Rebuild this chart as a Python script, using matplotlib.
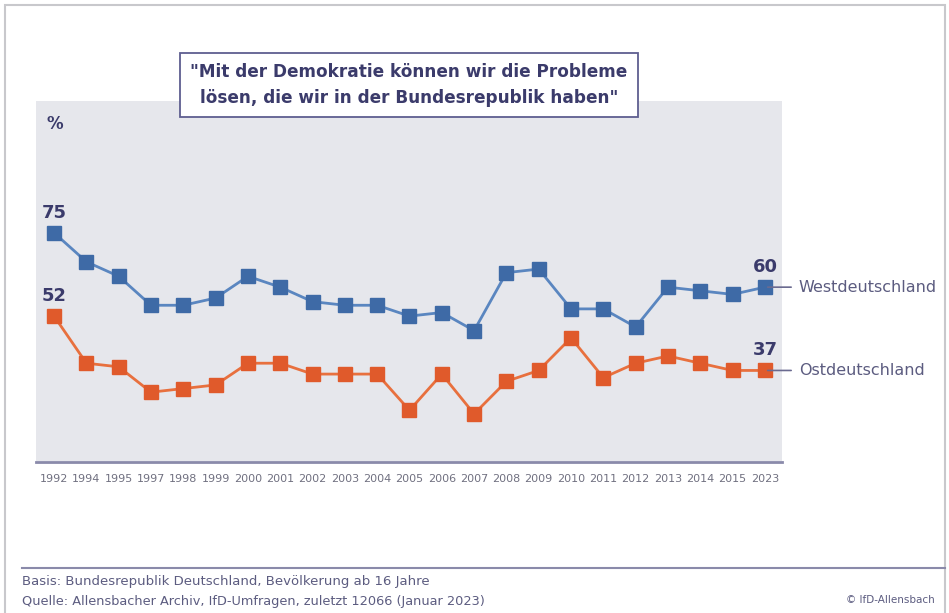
import matplotlib.pyplot as plt
from matplotlib.patches import Rectangle
from matplotlib.lines import Line2D

years = ["1992", "1994", "1995", "1997", "1998", "1999", "2000", "2001", "2002",
         "2003", "2004", "2005", "2006", "2007", "2008", "2009", "2010", "2011",
         "2012", "2013", "2014", "2015", "2023"]
west = [75, 67, 63, 55, 55, 57, 63, 60, 56, 55, 55, 52, 53, 48, 64, 65, 54, 54,
        49, 60, 59, 58, 60]
east = [52, 39, 38, 31, 32, 33, 39, 39, 36, 36, 36, 26, 36, 25, 34, 37, 46, 35,
        39, 41, 39, 37, 37]

BLUE = "#3e6aa6"
BLUE_LINE = "#5a86c0"
ORANGE = "#e05a2b"
ORANGE_LINE = "#e8703e"
NAVY = "#3b3b6b"
TEXT = "#5c5c80"
W, H = 949, 613


def px(x, y):
    # pixel coords (top-left origin) -> figure fraction
    return x / W, 1 - y / H


fig = plt.figure(figsize=(W / 100, H / 100), dpi=100)
fig.patch.set_facecolor("white")

# outer frame
fig.add_artist(Rectangle(px(5, 618), 940 / W, 613 / H, transform=fig.transFigure,
                         fill=False, edgecolor="#c8c8cc", linewidth=1.5))

left, top, right, bottom = 36, 101, 782, 461
ax = fig.add_axes([left / W, 1 - bottom / H, (right - left) / W, (bottom - top) / H])
ax.set_facecolor("#e6e7ec")
for s in ax.spines.values():
    s.set_visible(False)

x = list(range(len(years)))
ax.plot(x, west, color=BLUE_LINE, linewidth=2, marker="s", markersize=9.5,
        markerfacecolor=BLUE, markeredgecolor=BLUE, zorder=3)
ax.plot(x, east, color=ORANGE_LINE, linewidth=2, marker="s", markersize=9.5,
        markerfacecolor=ORANGE, markeredgecolor=ORANGE, zorder=3)

ax.set_xlim(-0.56, 22.53)
ax.set_ylim(12, 111.4)
ax.set_yticks([])
ax.set_xticks(x)
ax.set_xticklabels(years, fontsize=8, color="#707080")
ax.tick_params(axis="x", length=0, pad=9)

# bottom rule of the plot area
fig.add_artist(Line2D([left / W, right / W], [1 - 462 / H] * 2, transform=fig.transFigure,
                      color="#8a8aaa", linewidth=2))

# value labels at start and end
for vals in (west, east):
    for i in (0, len(vals) - 1):
        ax.annotate(str(vals[i]), (i, vals[i]), xytext=(0, 8), textcoords="offset points",
                    ha="center", va="bottom", fontsize=13, fontweight="bold", color=NAVY)

# series labels with leader lines
for vals, name in [(west, "Westdeutschland"), (east, "Ostdeutschland")]:
    ax.annotate("", xy=(22.9, vals[-1]), xytext=(22, vals[-1]), annotation_clip=False,
                arrowprops=dict(arrowstyle="-", color="#6a6a90", linewidth=1.2))
    ax.text(23.05, vals[-1], name, ha="left", va="center", fontsize=11.5,
            color=TEXT, clip_on=False)

ax.text(0.014, 0.96, "%", transform=ax.transAxes, ha="left", va="top",
        fontsize=12, fontweight="bold", color=NAVY)

# title box
fig.text(409 / W, 1 - 85 / H,
         "\"Mit der Demokratie können wir die Probleme\nlösen, die wir in der Bundesrepublik haben\"",
         ha="center", va="center", fontsize=12.2, fontweight="bold", color=NAVY,
         linespacing=1.6,
         bbox=dict(boxstyle="square,pad=0.6", facecolor="white", edgecolor="#5e5e90",
                   linewidth=1.3))

# footer
fig.add_artist(Line2D([22 / W, 945 / W], [1 - 568 / H] * 2, transform=fig.transFigure,
                      color="#8a8aaa", linewidth=1.5))
fig.text(22 / W, 1 - 581 / H, "Basis: Bundesrepublik Deutschland, Bevölkerung ab 16 Jahre",
         ha="left", va="center", fontsize=9.5, color=TEXT)
fig.text(22 / W, 1 - 602 / H, "Quelle: Allensbacher Archiv, IfD-Umfragen, zuletzt 12066 (Januar 2023)",
         ha="left", va="center", fontsize=9.3, color=TEXT)
fig.text(935 / W, 1 - 600 / H, "© IfD-Allensbach", ha="right", va="center",
         fontsize=7.5, color=TEXT)

fig.savefig("out.png", dpi=100)
